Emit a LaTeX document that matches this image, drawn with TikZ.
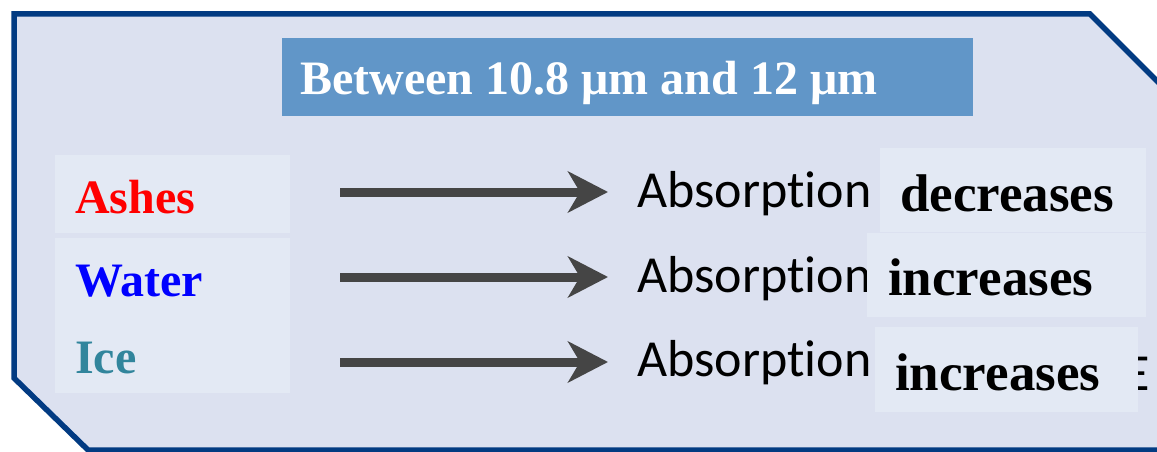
\documentclass[tikz,border=0pt]{standalone}
\usepackage{fontspec}
\setmainfont{Liberation Serif}
\newfontfamily\carlito[Ligatures={NoCommon,NoRare,NoDiscretionary},Contextuals=NoAlternate]{Carlito}
\newcommand{\absword}{Absorpt\kern0pt\relax ion}
\usetikzlibrary{arrows.meta}
\definecolor{panelfill}{HTML}{DCE1F0}
\definecolor{panelline}{HTML}{023B82}
\definecolor{cellfill}{HTML}{E3E9F4}
\definecolor{titlefill}{HTML}{6196C8}
\definecolor{arrowgray}{HTML}{454545}
\definecolor{icecolor}{HTML}{31859C}
\tikzset{
  cell/.style={fill=cellfill, draw=none, inner sep=0pt, anchor=north west},
  label/.style={inner sep=0pt, anchor=base west, font=\bfseries\fontsize{48}{56}\selectfont},
  result/.style={inner sep=0pt, anchor=base west, font=\bfseries\fontsize{53}{60}\selectfont},
  absorb/.style={inner sep=0pt, anchor=base west, font=\carlito\fontsize{52}{60}\selectfont},
  flow/.style={draw=arrowgray, line width=9pt,
    -{Stealth[length=40pt, width=41pt, inset=12pt]}}
}
\begin{document}
\begin{tikzpicture}[x=1pt, y=-1pt]
\useasboundingbox (0,0) rectangle (1157,452);
\clip (0,0) rectangle (1157,452);
% outer panel with cut corners
\draw[panelline, fill=panelfill, line width=5.5pt, line join=miter]
  (14,14) -- (1090,14) -- (1165,89) -- (1165,450) -- (88,450) -- (14,378) -- cycle;
% title bar
\node[fill=titlefill, inner sep=0pt, anchor=north west,
  minimum width=691pt, minimum height=78pt] (titlebox) at (282,38) {};
\node[inner sep=0pt, anchor=base west, text=white,
  font=\bfseries\fontsize{48}{56}\selectfont] (title) at (300,95)
  {Between 10.8 μm and 12 μm};
% left cells
\node[cell, minimum width=235pt, minimum height=78pt] (ashcell) at (55,155) {};
\node[cell, minimum width=235pt, minimum height=155pt] (wicell) at (55,238) {};
\node[label, text=red] (ashes) at (75,213) {Ashes};
\node[label, text=blue] (water) at (75,296) {Water};
\node[label, text=icecolor] (ice) at (75,373) {Ice};
% arrow end points
\coordinate (s1) at (340,192);  \coordinate (e1) at (608,192);
\coordinate (s2) at (340,277);  \coordinate (e2) at (608,277);
\coordinate (s3) at (340,362);  \coordinate (e3) at (608,362);
\draw[flow] (s1) -- (e1);
\draw[flow] (s2) -- (e2);
\draw[flow] (s3) -- (e3);
% absorption phrases
\node[absorb] (ab1) at (637,207) {\absword};
\node[absorb] (ab2) at (637,292) {\absword};
\node[absorb] (ab3) at (637,376) {\absword};
\node[absorb] (tail3) at (1124,390) {E};
% result cells
\node[cell, minimum width=266pt, minimum height=84pt] (deccell) at (880,148) {};
\node[cell, minimum width=279pt, minimum height=84pt] (inc1cell) at (867,233) {};
\node[cell, minimum width=263pt, minimum height=85pt] (inc2cell) at (875,327) {};
\node[result] (dec) at (900,211) {decreases};
\node[result] (inc1) at (888,295) {increases};
\node[result] (inc2) at (895,390) {increases};
\end{tikzpicture}
\end{document}
